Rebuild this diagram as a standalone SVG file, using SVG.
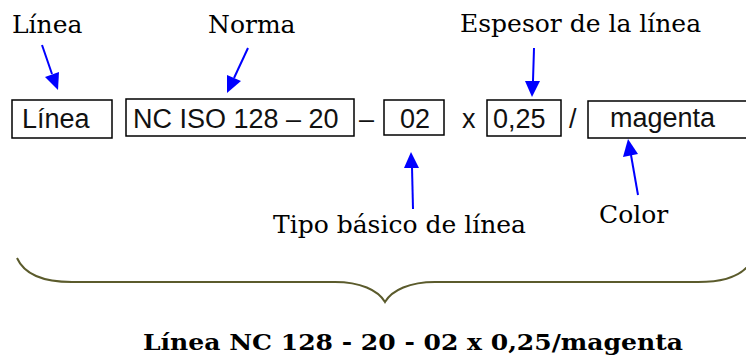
<svg xmlns="http://www.w3.org/2000/svg" width="746" height="360" viewBox="0 0 746 360">
<defs>
<style>
.lbl{font-family:"DejaVu Serif","Liberation Serif",serif;font-size:25px;fill:#000}
.box{fill:#fff;stroke:#000;stroke-width:1.5}
.bt{font-family:"Liberation Sans",Arial,sans-serif;font-size:27px;fill:#111}
.arr{stroke:#0000ff;stroke-width:2;fill:none}
.head{fill:#0000ff}
.brace{fill:none;stroke:#5b5b2c;stroke-width:2}
.sum{font-family:"DejaVu Serif","Liberation Serif",serif;font-size:23px;font-weight:bold;fill:#000}
</style>
</defs>
<rect width="746" height="360" fill="#fff"/>
<g id="label-linea"><text class="lbl" x="12" y="33">Línea</text></g>
<g id="label-norma"><text class="lbl" x="208" y="33">Norma</text></g>
<g id="label-espesor"><text class="lbl" x="460" y="32">Espesor de la línea</text></g>
<g id="label-tipo"><text class="lbl" x="273" y="233">Tipo básico de línea</text></g>
<g id="label-color"><text class="lbl" x="599" y="223">Color</text></g>
<g id="box-linea"><rect class="box" x="12" y="100" width="100" height="38"/><text class="bt" x="22" y="128">Línea</text></g>
<g id="box-norma"><rect class="box" x="126" y="99" width="228" height="37"/><text class="bt" x="133" y="128">NC ISO 128 – 20</text></g>
<g id="sep1"><text class="bt" x="359" y="128">–</text></g>
<g id="box-tipo"><rect class="box" x="384" y="100" width="60" height="35"/><text class="bt" x="400" y="128">02</text></g>
<g id="sep2"><text class="bt" x="462" y="128">x</text></g>
<g id="box-espesor"><rect class="box" x="487" y="100" width="74" height="36"/><text class="bt" x="493" y="128">0,25</text></g>
<g id="sep3"><text class="bt" x="569" y="128">/</text></g>
<g id="box-color"><rect class="box" x="588" y="101" width="170" height="37"/><text class="bt" x="610" y="127">magenta</text></g>
<g id="connectors">
<line class="arr" x1="42" y1="45" x2="52" y2="74"/><path class="head" d="M58,90 L45,77 L59,72 Z"/>
<line class="arr" x1="248" y1="48" x2="234" y2="78"/><path class="head" d="M227,93 L227,75 L241,81 Z"/>
<line class="arr" x1="534" y1="48" x2="533" y2="81"/><path class="head" d="M532,97 L525,81 L540,81 Z"/>
<line class="arr" x1="413" y1="209" x2="412" y2="167"/><path class="head" d="M411,152 L404,168 L419,168 Z"/>
<line class="arr" x1="638" y1="195" x2="631" y2="155"/><path class="head" d="M628,139 L623,157 L638,154 Z"/>
<path class="brace" d="M17,258 C25,276 48,282 72,282 L335,282 C360,282 378,290 385,302 C392,290 410,282 435,282 L698,282 C722,282 745,276 753,258"/>
</g>
<g id="summary"><text class="sum" x="143" y="350" textLength="540" lengthAdjust="spacingAndGlyphs">Línea NC 128 - 20 - 02 x 0,25/magenta</text></g>
</svg>
